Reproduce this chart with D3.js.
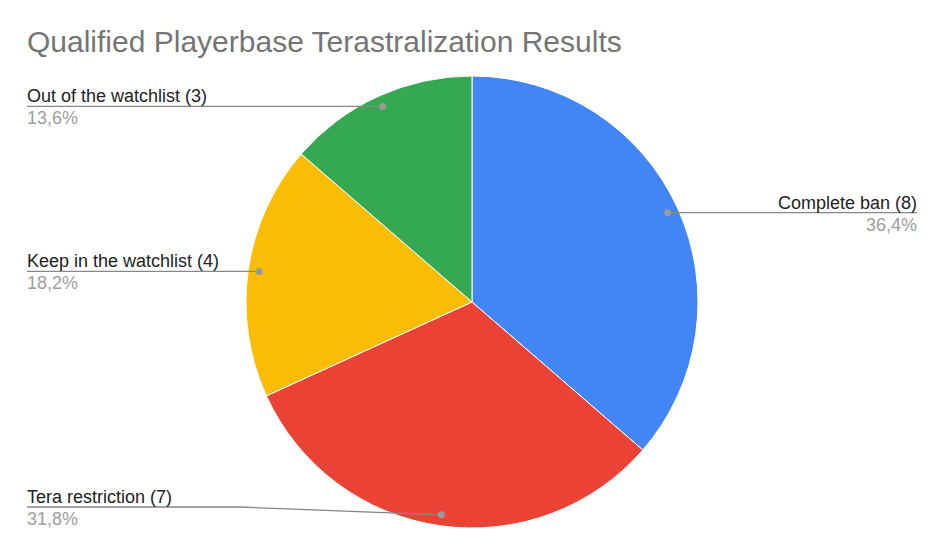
<!DOCTYPE html>
<html><head><meta charset="utf-8">
<script src="https://cdn.jsdelivr.net/npm/d3@7"></script>
<style>body{margin:0;background:#fff}svg{display:block;font-family:"Liberation Sans",Arial,sans-serif}</style>
</head><body>
<svg id="c" width="945" height="556"></svg>
<script>
const categories = ["Complete ban", "Tera restriction", "Keep in the watchlist", "Out of the watchlist"];
const values = [8, 7, 4, 3];
const colors = ["#4285f4", "#ea4335", "#fbbc04", "#34a853"];
const title = "Qualified Playerbase Terastralization Results";

const svg = d3.select("#c");
const W = 945, H = 556;
svg.append("rect").attr("width", W).attr("height", H).attr("fill", "#fff");
svg.append("text").attr("x", 27).attr("y", 52).attr("font-size", 30).attr("fill", "#757575").text(title);

const cx = 472, cy = 302, R = 226;
const total = d3.sum(values);
const pie = d3.pie().sort(null).value(d => d.v);
const data = pie(categories.map((c, i) => ({c, v: values[i], col: colors[i]})));
const arc = d3.arc().innerRadius(0).outerRadius(R);
const g = svg.append("g").attr("transform", `translate(${cx},${cy})`);
g.selectAll("path").data(data).join("path").attr("d", arc)
  .attr("fill", d => d.data.col).attr("stroke", "#fff").attr("stroke-width", 1);

const fmt = v => (v / total * 100).toFixed(1).replace(".", ",") + "%";
const leftX = 27, rightX = 917, maxY = 507;
data.forEach(d => {
  const a = (d.startAngle + d.endAngle) / 2;
  const rr = R - 11;
  const px = cx + rr * Math.sin(a), py = cy - rr * Math.cos(a);
  const right = px > cx;
  const ly = Math.min(py, maxY);
  const ex = right ? rightX : leftX;
  let pts;
  if (Math.abs(ly - py) > 0.5) {
    pts = [[ex, ly], [240, ly], [px, py]];
  } else {
    pts = [[ex, ly], [px, py]];
  }
  svg.append("path").attr("d", d3.line()(pts)).attr("fill", "none").attr("stroke", "#888").attr("stroke-width", 1.3);
  svg.append("circle").attr("cx", px).attr("cy", py).attr("r", 3.5).attr("fill", "#999");
  svg.append("text").attr("x", ex).attr("y", ly - 4).attr("text-anchor", right ? "end" : "start")
    .attr("font-size", 18).attr("fill", "#222").text(`${d.data.c} (${d.data.v})`);
  svg.append("text").attr("x", ex).attr("y", ly + 18).attr("text-anchor", right ? "end" : "start")
    .attr("font-size", 18).attr("fill", "#9e9e9e").text(fmt(d.data.v));
});
</script>
</body></html>
